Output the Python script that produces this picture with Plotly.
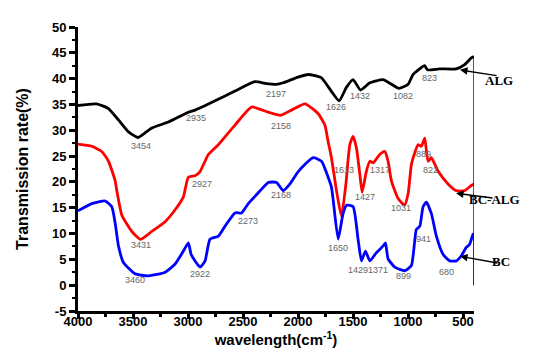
import plotly.graph_objects as go

# ---------------- data ----------------
alg_w = [4000, 3832, 3723, 3632, 3541, 3454, 3333, 3178, 2997, 2935, 2754, 2573,
         2391, 2300, 2197, 2134, 2000, 1907, 1789, 1698, 1626, 1560, 1499, 1432,
         1347, 1226, 1165, 1082, 999, 954, 848, 823, 712, 561, 485, 425, 400]
alg_t = [34.8, 35.1, 34.2, 32.0, 29.7, 28.6, 30.4, 31.6, 33.5, 33.9, 35.7, 37.6,
         39.4, 39.1, 38.9, 39.2, 40.3, 40.8, 40.2, 37.6, 35.7, 38.3, 39.8, 37.8,
         39.2, 39.8, 39.1, 38.1, 38.9, 40.8, 42.5, 41.7, 41.9, 41.9, 42.7, 44.0, 44.3]

bcalg_w = [4000, 3875, 3784, 3723, 3662, 3647, 3602, 3511, 3431, 3330, 3208, 3117,
           3042, 2997, 2936, 2891, 2845, 2815, 2724, 2573, 2422, 2270, 2158, 2050,
           1937, 1816, 1756, 1726, 1696, 1650, 1605, 1565, 1529, 1499, 1469, 1438,
           1417, 1378, 1347, 1317, 1257, 1211, 1181, 1151, 1090, 1031, 999, 969,
           939, 909, 878, 848, 818, 788, 727, 636, 561, 485, 425, 400]
bcalg_t = [27.3, 26.9, 25.9, 24.0, 20.2, 18.3, 13.6, 10.4, 8.9, 10.4, 12.3, 14.6,
           17.1, 20.9, 21.2, 22.0, 24.0, 25.3, 27.2, 31.0, 34.5, 33.5, 32.9, 34.0,
           35.1, 33.2, 31.0, 27.8, 24.7, 18.3, 13.3, 19.5, 27.2, 28.8, 26.6, 21.5,
           18.0, 22.1, 24.0, 23.7, 25.3, 25.9, 24.0, 20.2, 16.8, 15.5, 17.7, 23.4,
           25.6, 27.2, 26.9, 28.5, 24.0, 24.7, 22.1, 19.6, 18.3, 18.3, 19.3, 19.6]

bc_w = [4000, 3875, 3753, 3693, 3662, 3632, 3587, 3481, 3360, 3208, 3117, 3042,
        2997, 2972, 2936, 2891, 2845, 2800, 2724, 2664, 2573, 2513, 2452, 2361,
        2270, 2195, 2134, 2073, 1998, 1862, 1786, 1726, 1696, 1680, 1635, 1590,
        1559, 1499, 1454, 1423, 1387, 1347, 1287, 1226, 1205, 1181, 1120, 1029,
        969, 924, 893, 863, 833, 788, 742, 682, 621, 561, 515, 470, 440, 410, 400]
bc_t = [14.4, 15.8, 16.3, 15.2, 12.0, 7.6, 4.4, 2.2, 1.8, 2.5, 4.1, 6.6,
        8.2, 6.0, 4.7, 3.5, 4.7, 8.9, 9.5, 11.4, 14.0, 14.0, 15.8, 17.9,
        19.9, 19.9, 18.3, 19.6, 22.0, 24.7, 24.0, 20.9, 19.0, 16.5, 8.9, 13.9,
        15.5, 15.2, 8.9, 4.7, 6.6, 4.7, 6.3, 7.6, 8.2, 5.1, 3.5, 2.8,
        3.8, 10.8, 11.4, 15.2, 16.1, 13.9, 9.5, 6.0, 4.7, 4.7, 5.7, 7.3, 7.9, 9.8, 10.0]

# peak labels: text, x (wavenumber), y (transmission) where the label sits
alg_peaks = [("3454", 3424, 26.9), ("2935", 2924, 32.4), ("2197", 2198, 37.1),
             ("1626", 1653, 34.5), ("1432", 1435, 36.6), ("1082", 1045, 36.6),
             ("823", 809, 40.2)]
bcalg_peaks = [("3431", 3424, 7.7), ("2927", 2870, 19.5), ("2158", 2152, 30.9),
               ("1613", 1580, 22.3), ("1317", 1254, 22.3), ("1427", 1390, 17.0),
               ("1031", 1063, 14.9), ("889", 863, 25.4), ("822", 800, 22.3)]
bc_peaks = [("3460", 3478, 1.1), ("2922", 2888, 2.2), ("2273", 2452, 12.5),
            ("2168", 2152, 17.4), ("1650", 1635, 7.2), ("1429", 1453, 3.0),
            ("1371", 1272, 3.0), ("899", 1045, 1.7), ("941", 863, 8.9),
            ("680", 654, 2.6)]

series_names = ["ALG", "BC-ALG", "BC"]
x_ticks = [4000, 3500, 3000, 2500, 2000, 1500, 1000, 500]
y_ticks = [-5, 0, 5, 10, 15, 20, 25, 30, 35, 40, 45, 50]

# ---------------- figure ----------------
fig = go.Figure()
line_w = 2.8
fig.add_trace(go.Scatter(x=bcalg_w, y=bcalg_t, mode="lines", name="BC-ALG",
                         line=dict(color="#ff0000", width=line_w, shape="spline", smoothing=0.5)))
fig.add_trace(go.Scatter(x=alg_w, y=alg_t, mode="lines", name="ALG",
                         line=dict(color="#000000", width=line_w, shape="spline", smoothing=0.5)))
fig.add_trace(go.Scatter(x=bc_w, y=bc_t, mode="lines", name="BC",
                         line=dict(color="#0000ff", width=line_w, shape="spline", smoothing=0.5)))

# vertical drop lines at the end of the spectra
fig.add_shape(type="line", x0=alg_w[-1], x1=alg_w[-1], y0=alg_t[-1], y1=0,
              line=dict(color="black", width=1.3))
fig.add_shape(type="line", x0=bc_w[-1], x1=bc_w[-1], y0=bc_t[-1], y1=0,
              line=dict(color="#0000ff", width=1.3))

label_font = dict(family="Liberation Sans, Arial", size=9, color="#666666")
for peaks in (alg_peaks, bcalg_peaks, bc_peaks):
    for txt, xx, yy in peaks:
        fig.add_annotation(x=xx, y=yy, text=txt, showarrow=False, font=label_font)

# series name labels with arrows
name_font = dict(family="Liberation Serif, Times New Roman", size=13, color="black",
                 weight="bold")
name_pos = [(1.103, 39.6), (1.122, 16.6), (1.097, 4.5)]
arrow_heads = [(527, 41.7, 38, 6), (563, 17.8, 38, 5), (527, 5.6, 39, 7)]
for nm, (px, py), (hx, hy, ax, ay) in zip(series_names, name_pos, arrow_heads):
    fig.add_annotation(xref="paper", yref="y", x=px, y=py, text=nm,
                       showarrow=False, font=name_font)
    fig.add_annotation(x=hx, y=hy, ax=ax, ay=ay, text="", showarrow=True,
                       arrowhead=2, arrowsize=1, arrowwidth=1.5, arrowcolor="black")

tick_font = dict(family="Liberation Sans, Arial", size=13, color="black", weight="bold")
fig.update_xaxes(range=[4000, 400], tickvals=x_ticks, ticktext=[str(v) for v in x_ticks],
                 showgrid=False, zeroline=False, showline=True, linecolor="black",
                 linewidth=3, ticks="outside", ticklen=5, tickwidth=3, tickcolor="black",
                 minor=dict(ticks="outside", ticklen=3, tickwidth=3, dtick=250,
                            tick0=0, tickcolor="black"),
                 tickfont=tick_font, ticklabelstandoff=-9,
                 title=dict(text="wavelength(cm<sup>-1</sup>)",
                            font=dict(family="Liberation Sans, Arial", size=15,
                                      color="black", weight="bold"),
                            standoff=5))
fig.update_yaxes(range=[-5, 50], tickvals=y_ticks, ticktext=[str(v) for v in y_ticks],
                 showgrid=False, zeroline=False, showline=True, linecolor="black",
                 linewidth=3, ticks="outside", ticklen=6, tickwidth=3, tickcolor="black",
                 minor=dict(ticks="outside", ticklen=3, tickwidth=2, dtick=2.5,
                            tick0=0, tickcolor="black"),
                 tickfont=tick_font,
                 title=dict(text="Transmission rate(%)",
                            font=dict(family="Liberation Sans, Arial", size=16,
                                      color="black", weight="bold"),
                            standoff=20))

fig.update_layout(width=550, height=358, showlegend=False,
                  plot_bgcolor="white", paper_bgcolor="white",
                  margin=dict(l=70, r=84, t=13, b=55))

fig.write_html("out.html")
